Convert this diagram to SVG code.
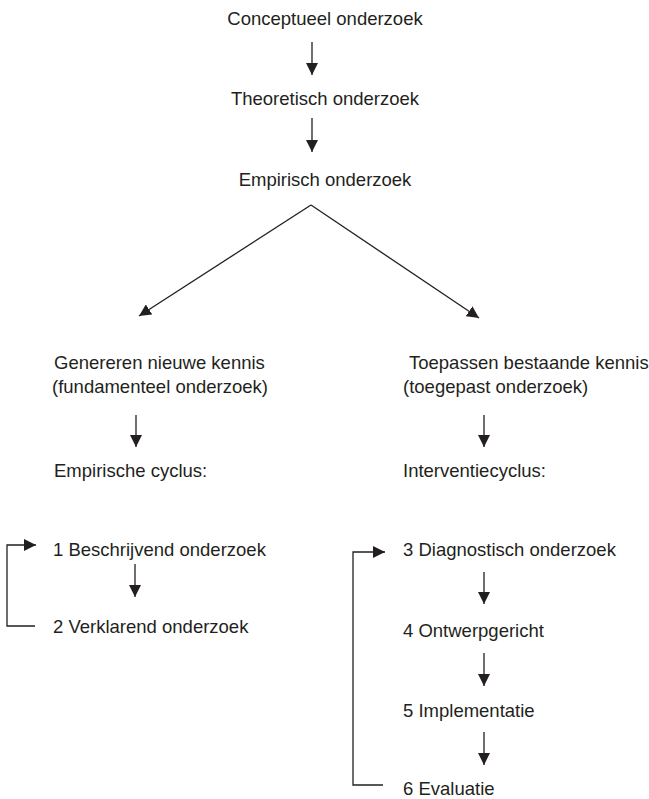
<svg xmlns="http://www.w3.org/2000/svg" width="649" height="799" viewBox="0 0 649 799">
  <style>
    .t { font-family: "Liberation Sans", Arial, sans-serif; font-size: 18.5px; fill: #231f20; }
    .c { text-anchor: middle; }
    .l { fill: none; stroke: #231f20; stroke-width: 1.3; }
  </style>
  <defs>
    <marker id="ah" markerUnits="userSpaceOnUse" markerWidth="12" markerHeight="12" refX="12" refY="6" orient="auto" viewBox="0 0 12 12">
      <path d="M0,0 L12,6 L0,12 Z" fill="#231f20"/>
    </marker>
  </defs>
  <rect width="649" height="799" fill="#ffffff"/>

  <g id="n-conceptueel"><text class="t c" x="325" y="25">Conceptueel onderzoek</text></g>
  <g id="n-theoretisch"><text class="t c" x="325" y="105">Theoretisch onderzoek</text></g>
  <g id="n-empirisch"><text class="t c" x="325" y="186">Empirisch onderzoek</text></g>

  <g id="n-genereren">
    <text class="t" x="54" y="369">Genereren nieuwe kennis</text>
    <text class="t" x="52" y="393">(fundamenteel onderzoek)</text>
  </g>
  <g id="n-toepassen">
    <text class="t" x="409" y="369">Toepassen bestaande kennis</text>
    <text class="t" x="403" y="393">(toegepast onderzoek)</text>
  </g>
  <g id="n-empirische-cyclus"><text class="t" x="54" y="477">Empirische cyclus:</text></g>
  <g id="n-interventiecyclus"><text class="t" x="403" y="477">Interventiecyclus:</text></g>

  <g id="n-1"><text class="t" x="53" y="556">1 Beschrijvend onderzoek</text></g>
  <g id="n-2"><text class="t" x="53" y="633">2 Verklarend onderzoek</text></g>
  <g id="n-3"><text class="t" x="403" y="556">3 Diagnostisch onderzoek</text></g>
  <g id="n-4"><text class="t" x="403" y="637">4 Ontwerpgericht</text></g>
  <g id="n-5"><text class="t" x="403" y="717">5 Implementatie</text></g>
  <g id="n-6"><text class="t" x="403" y="795">6 Evaluatie</text></g>

  <g id="connectors">
    <line class="l" x1="312" y1="42" x2="312" y2="75" marker-end="url(#ah)"/>
    <line class="l" x1="312" y1="118" x2="312" y2="152" marker-end="url(#ah)"/>
    <line class="l" x1="311" y1="205" x2="139" y2="316" marker-end="url(#ah)"/>
    <line class="l" x1="311" y1="205" x2="479" y2="318" marker-end="url(#ah)"/>
    <line class="l" x1="136" y1="415" x2="136" y2="447" marker-end="url(#ah)"/>
    <line class="l" x1="484" y1="415" x2="484" y2="447" marker-end="url(#ah)"/>
    <line class="l" x1="135" y1="564" x2="135" y2="597" marker-end="url(#ah)"/>
    <polyline class="l" points="35,626 7,626 7,545 36,545" marker-end="url(#ah)"/>
    <line class="l" x1="484" y1="572" x2="484" y2="604" marker-end="url(#ah)"/>
    <line class="l" x1="484" y1="653" x2="484" y2="686" marker-end="url(#ah)"/>
    <line class="l" x1="484" y1="732" x2="484" y2="765" marker-end="url(#ah)"/>
    <polyline class="l" points="383,785 353,785 353,552 385,552" marker-end="url(#ah)"/>
  </g>
</svg>
